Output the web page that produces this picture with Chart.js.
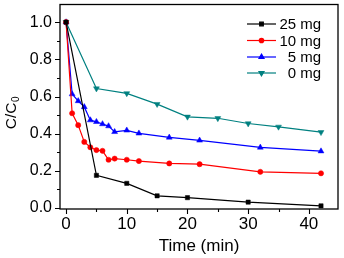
<!DOCTYPE html>
<html>
<head>
<meta charset="utf-8">
<script src="https://cdn.jsdelivr.net/npm/chart.js@4/dist/chart.umd.min.js"></script>
<style>
html,body{margin:0;padding:0;background:#fff;}
#wrap{width:344px;height:258px;position:relative;}
</style>
</head>
<body>
<div id="wrap"><canvas id="c" width="344" height="258"></canvas></div>
<script>
// ---- data ----
const seriesNames = ["25 mg", "10 mg", "5 mg", "0 mg"];
const time25 = [0, 5, 10, 15, 20, 30, 42];
const ratio25 = [1.0, 0.176, 0.133, 0.066, 0.056, 0.032, 0.012];
const time10 = [0, 1, 2, 3, 4, 5, 6, 7, 8, 10, 12, 17, 22, 32, 42];
const ratio10 = [1.0, 0.51, 0.446, 0.356, 0.327, 0.312, 0.308, 0.26, 0.266, 0.26, 0.253, 0.24, 0.236, 0.195, 0.187];
const time5 = [0, 1, 2, 3, 4, 5, 6, 7, 8, 10, 12, 17, 22, 32, 42];
const ratio5 = [1.0, 0.613, 0.576, 0.544, 0.473, 0.464, 0.452, 0.441, 0.41, 0.418, 0.402, 0.38, 0.364, 0.326, 0.306];
const time0 = [0, 5, 10, 15, 20, 25, 30, 35, 42];
const ratio0 = [1.0, 0.643, 0.617, 0.559, 0.491, 0.483, 0.455, 0.437, 0.408];
const xTicks = [0, 10, 20, 30, 40];
const xMinorTicks = [5, 15, 25, 35];
const yTicks = [0.0, 0.2, 0.4, 0.6, 0.8, 1.0];
const yMinorTicks = [0.1, 0.3, 0.5, 0.7, 0.9];
const xTitle = "Time (min)";
const yTitleMain = "C/C";
const yTitleSub = "0";

const colors = ["#000000", "#ff0000", "#0000ff", "#008080"];
const styles = ["rect", "circle", "triangle", "triangle"];
const rotations = [0, 0, 0, 180];
const radii = [3, 2.6, 3.4, 3.4];

function pts(t, v) { return t.map((x, i) => ({x: x, y: v[i]})); }
const allSeries = [pts(time25, ratio25), pts(time10, ratio10), pts(time5, ratio5), pts(time0, ratio0)];

const datasets = allSeries.map((d, i) => ({
  label: seriesNames[i],
  data: d,
  borderColor: colors[i],
  backgroundColor: colors[i],
  borderWidth: 1.2,
  pointStyle: styles[i],
  rotation: rotations[i],
  pointRadius: radii[i],
  pointBorderWidth: 0.5,
  tension: 0
}));

const FONT = "'Liberation Sans', Arial, sans-serif";

const decor = {
  id: 'decor',
  afterDraw(chart) {
    const ctx = chart.ctx;
    const a = chart.chartArea;
    const xs = chart.scales.x, ys = chart.scales.y;
    ctx.save();
    ctx.strokeStyle = '#000';
    ctx.lineWidth = 1.3;
    ctx.strokeRect(a.left, a.top, a.right - a.left, a.bottom - a.top);
    ctx.lineWidth = 1.1;
    ctx.beginPath();
    xTicks.forEach(v => { const p = Math.round(xs.getPixelForValue(v)) + 0.5; ctx.moveTo(p, a.bottom); ctx.lineTo(p, a.bottom + 5); });
    xMinorTicks.forEach(v => { const p = Math.round(xs.getPixelForValue(v)) + 0.5; ctx.moveTo(p, a.bottom); ctx.lineTo(p, a.bottom + 3); });
    yTicks.forEach(v => { const p = Math.round(ys.getPixelForValue(v)) + 0.5; ctx.moveTo(a.left, p); ctx.lineTo(a.left - 5, p); });
    yMinorTicks.forEach(v => { const p = Math.round(ys.getPixelForValue(v)) + 0.5; ctx.moveTo(a.left, p); ctx.lineTo(a.left - 3, p); });
    ctx.stroke();

    // y title with subscript
    ctx.fillStyle = '#000';
    ctx.translate(15.5, 113);
    ctx.rotate(-Math.PI / 2);
    ctx.font = "15.5px " + FONT;
    ctx.textBaseline = 'alphabetic';
    const wMain = ctx.measureText(yTitleMain).width;
    ctx.font = "10px " + FONT;
    const wSub = ctx.measureText(yTitleSub).width;
    const start = -(wMain + wSub) / 2;
    ctx.font = "15.5px " + FONT;
    ctx.textAlign = 'left';
    ctx.fillText(yTitleMain, start, 0);
    ctx.font = "10px " + FONT;
    ctx.fillText(yTitleSub, start + wMain + 0.5, 3);
    ctx.restore();

    // legend
    ctx.save();
    ctx.font = "15px " + FONT;
    ctx.textBaseline = 'middle';
    const rowsY = [24, 40.5, 57, 73];
    const numW = ctx.measureText("25").width;
    seriesNames.forEach((name, i) => {
      const y = rowsY[i];
      ctx.strokeStyle = colors[i];
      ctx.lineWidth = 1.2;
      ctx.beginPath(); ctx.moveTo(247, y); ctx.lineTo(276, y); ctx.stroke();
      ctx.fillStyle = colors[i];
      Chart.helpers.drawPoint(ctx, {pointStyle: styles[i], rotation: rotations[i], radius: radii[i] * 0.85, borderWidth: 0.5}, 261.5, y);
      ctx.fillStyle = '#000';
      const num = name.split(' ')[0];
      const w = ctx.measureText(num).width;
      ctx.textAlign = 'left';
      ctx.fillText(name, 279.5 + (numW - w), y + 1);
    });
    ctx.restore();
  }
};

new Chart(document.getElementById('c'), {
  type: 'line',
  data: { datasets: datasets },
  options: {
    responsive: false,
    animation: false,
    devicePixelRatio: 1,
    layout: { padding: { top: 4, right: 6, left: 0, bottom: 0 } },
    plugins: { legend: { display: false }, tooltip: { enabled: false } },
    scales: {
      x: {
        type: 'linear',
        min: -1, max: 44.8,
        afterBuildTicks: s => { s.ticks = xTicks.map(v => ({value: v})); },
        afterFit: s => { s.height = 49; s.paddingLeft = 0; s.paddingRight = 0; },
        grid: { display: false, drawTicks: false, tickLength: 0 },
        border: { display: false },
        ticks: { color: '#000', font: { family: FONT, size: 17 }, padding: 5, maxRotation: 0, callback: v => String(v) },
        title: { display: true, text: xTitle, color: '#000', font: { family: FONT, size: 17 }, padding: { top: 0, bottom: 1 } }
      },
      y: {
        type: 'linear',
        min: -0.005, max: 1.095,
        afterBuildTicks: s => { s.ticks = yTicks.map(v => ({value: v})); },
        afterFit: s => { s.width = 60; s.paddingTop = 0; s.paddingBottom = 0; },
        grid: { display: false, drawTicks: false, tickLength: 0 },
        border: { display: false },
        ticks: { color: '#000', font: { family: FONT, size: 16 }, padding: 8, callback: v => v.toFixed(1) }
      }
    }
  },
  plugins: [decor]
});
</script>
</body>
</html>
